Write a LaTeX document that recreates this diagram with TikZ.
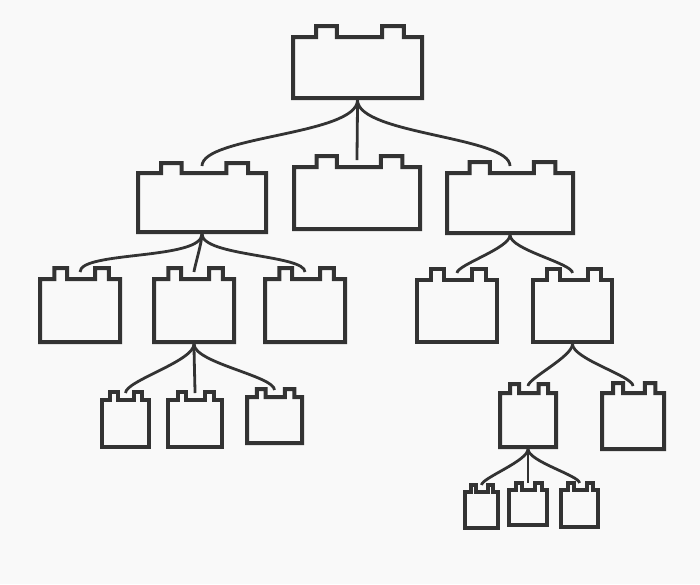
\documentclass[tikz,border=0pt]{standalone}
\usepackage{tikz}
\usetikzlibrary{calc}

\definecolor{inkgray}{RGB}{51,51,51}
\definecolor{paper}{RGB}{249,249,249}

\tikzset{
  brick/.style={inner sep=0pt, outer sep=0pt},
  brickline/.style={draw=inkgray, line width=2pt, line join=miter},
  branch/.style={draw=inkgray, line width=1.4pt, shorten <=1pt, shorten >=3.5pt},
}

% #1 name, #2 #3 top left, #4 #5 bottom right, #6 height of the studs
\newcommand{\brick}[6]{%
  \node[brick, minimum width={(#4-#2)*0.5pt}, minimum height={(#5-#3)*0.5pt}]
    (#1) at ({(#2+#4)/2},{(#3+#5)/2}) {};
  \draw[brickline] (#1.south west) -- (#1.north west)
    -- ($(#1.north west)!0.18!(#1.north east)$) -- ++(0,-#6)
    -- ($(#1.north west)!0.34!(#1.north east)+(0,-#6)$) -- ++(0,#6)
    -- ($(#1.north west)!0.69!(#1.north east)$) -- ++(0,-#6)
    -- ($(#1.north west)!0.86!(#1.north east)+(0,-#6)$) -- ++(0,#6)
    -- (#1.north east) -- (#1.south east) -- cycle;
}

\begin{document}
\begin{tikzpicture}[x=0.5pt, y=-0.5pt]
\fill[paper] (0,0) rectangle (700,584);

% root
\brick{root}{293}{37}{422}{98}{11}
% second row
\brick{left}{138}{173}{266}{232}{10}
\brick{mid}{294}{167}{420}{229}{11}
\brick{right}{447}{173}{573}{233}{11}
% third row
\brick{la}{40}{279}{120}{342}{11}
\brick{lb}{154}{279}{234}{342}{11}
\brick{lc}{265}{279}{345}{342}{11}
\brick{ra}{417}{280}{497}{342}{11}
\brick{rb}{533}{280}{612}{342}{11}
% fourth row
\brick{lba}{102}{400}{149}{447}{8}
\brick{lbb}{168}{400}{222}{447}{8}
\brick{lbc}{247}{397}{302}{443}{8}
\brick{rba}{500}{393}{556}{447}{9}
\brick{rbb}{602}{393}{664}{449}{10}
% fifth row
\brick{rbaa}{465}{492}{498}{528}{7}
\brick{rbab}{509}{490}{547}{525}{7}
\brick{rbac}{561}{490}{598}{527}{7}

% branches
\foreach \parent/\child in {root/left, root/mid, root/right,
    left/la, left/lb, left/lc, right/ra, right/rb,
    lb/lba, lb/lbb, lb/lbc, rb/rba, rb/rbb,
    rba/rbaa, rba/rbab, rba/rbac}
  \draw[branch] (\parent.south) to[out=-90, in=90, looseness=0.55] (\child.north);
\end{tikzpicture}
\end{document}
